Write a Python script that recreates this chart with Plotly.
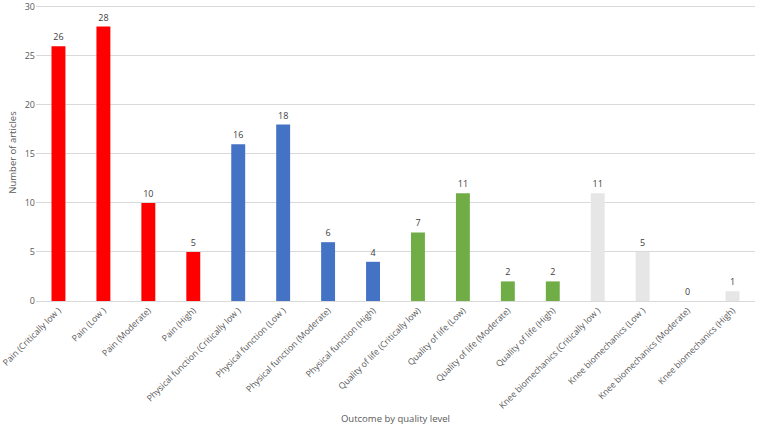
import plotly.graph_objects as go

categories = [
    "Pain (Critically low )", "Pain (Low )", "Pain (Moderate)", "Pain (High)",
    "Physical function (Critically low )", "Physical function (Low )",
    "Physical function (Moderate)", "Physical function (High)",
    "Quality of life (Critically low)", "Quality of life (Low)",
    "Quality of life (Moderate)", "Quality of life (High)",
    "Knee biomechanics (Critically low )", "Knee biomechanics (Low )",
    "Knee biomechanics (Moderate)", "Knee biomechanics (High)",
]
values = [26, 28, 10, 5, 16, 18, 6, 4, 7, 11, 2, 2, 11, 5, 0, 1]
groups = ["Pain"] * 4 + ["Physical"] * 4 + ["QoL"] * 4 + ["Knee"] * 4

group_colors = {"Pain": "#FF0000", "Physical": "#4472C4", "QoL": "#70AD47", "Knee": "#E7E6E6"}
colors = [group_colors[g] for g in groups]

fig = go.Figure(go.Bar(
    x=categories, y=values,
    marker=dict(color=colors, line=dict(width=0)),
    text=[str(v) for v in values], textposition="outside",
    textfont=dict(size=9, color="#404040"), cliponaxis=False,
))

fig.update_layout(
    width=760, height=428,
    margin=dict(l=36, r=5, t=4, b=127),
    paper_bgcolor="white", plot_bgcolor="white",
    font=dict(family="Open Sans", color="#595959"),
    bargap=0.69,
    showlegend=False,
    xaxis=dict(
        tickangle=-45, tickfont=dict(size=8.7, color="#595959"),
        showline=True, linecolor="#D9D9D9", linewidth=1,
        automargin=False, ticks="",
        title=dict(text="Outcome by quality level", font=dict(size=9.5, color="#595959"), standoff=4),
    ),
    yaxis=dict(
        range=[0, 30.3], tickvals=[0, 5, 10, 15, 20, 25, 30], tickfont=dict(size=9, color="#595959"),
        ticklabeloverflow="allow",
        gridcolor="#D9D9D9", gridwidth=1, zeroline=False, automargin=False,
        title=dict(text="Number of articles", font=dict(size=9.5, color="#595959"), standoff=6),
    ),
)
fig.write_html("out.html")
